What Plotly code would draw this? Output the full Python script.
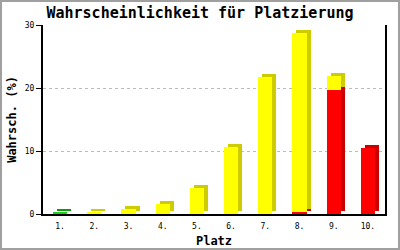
import plotly.graph_objects as go

categories = ["1.", "2.", "3.", "4.", "5.", "6.", "7.", "8.", "9.", "10."]
green = [0.3, 0, 0, 0, 0, 0, 0, 0, 0, 0]
yellow = [0, 0.35, 0.8, 1.6, 4.2, 10.7, 21.8, 28.5, 2.2, 0]
red = [0, 0, 0, 0, 0, 0, 0, 0.3, 19.7, 10.5]
y_ticks = [0, 10, 20, 30]

# stacking order bottom -> top: green, red, yellow
series = [
    ("green", green, "#22cc22", "#119911"),
    ("red", red, "#ff0000", "#cc0000"),
    ("yellow", yellow, "#ffff00", "#cccc00"),
]

W, H = 400, 250
L, R, T, B = 43, 15, 25, 36
pw, ph = W - L - R, H - T - B

width = 0.42
dx = 4 / (pw / 10)      # 3D depth in category units
dy = 3 / (ph / 30)      # 3D depth in value units

bases = {}
cum = [0.0] * len(categories)
for name, vals, _, _ in series:
    bases[name] = list(cum)
    cum = [c + v for c, v in zip(cum, vals)]

fig = go.Figure()
# side/top faces
for name, vals, front, side in series:
    fig.add_trace(go.Bar(
        x=categories, y=vals, base=[b + dy if v > 0 else b for b, v in zip(bases[name], vals)],
        offset=-width / 2 + dx, width=width,
        marker=dict(color=side, line=dict(width=0)),
        showlegend=False, hoverinfo="skip"))
# front faces
for name, vals, front, side in series:
    fig.add_trace(go.Bar(
        x=categories, y=vals, base=bases[name],
        offset=-width / 2, width=width,
        marker=dict(color=front, line=dict(width=0)),
        showlegend=False, name=name))

mono = "DejaVu Sans Mono"
fig.update_layout(
    width=W, height=H,
    margin=dict(l=L, r=R, t=T, b=B, pad=0, autoexpand=False),
    paper_bgcolor="white", plot_bgcolor="white",
    barmode="overlay", bargap=0,
    title=dict(text="<b>Wahrscheinlichkeit für Platzierung</b>",
               font=dict(family=mono, size=15, color="black"),
               x=0.5, xanchor="center", y=1 - 13 / H, yanchor="middle", yref="container"),
    xaxis=dict(
        type="category", range=[-0.5, 9.5], automargin=False,
        showline=True, linecolor="black", linewidth=2,
        showgrid=False, ticks="", zeroline=False, ticklabelstandoff=3,
        tickfont=dict(family=mono, size=8, color="black"),
        title=dict(text="<b>Platz</b>", font=dict(family=mono, size=12, color="black"), standoff=7),
    ),
    yaxis=dict(
        range=[0, 30], tickvals=y_ticks, automargin=False,
        showline=True, linecolor="black", linewidth=2, mirror=True,
        ticks="outside", ticklen=5, tickcolor="black", tickwidth=1,
        showgrid=True, gridcolor="#bbbbbb", griddash="dot", gridwidth=1,
        zeroline=False,
        tickfont=dict(family=mono, size=8, color="black"),
        title=dict(text="<b>Wahrsch. (%)</b>", font=dict(family=mono, size=12, color="black"), standoff=6),
    ),
    shapes=[dict(type="rect", xref="paper", yref="paper",
                 x0=-(L - 1) / pw, x1=1 + (R - 1) / pw,
                 y0=-(B - 1) / ph, y1=1 + (T - 1) / ph,
                 line=dict(color="#a0a0a0", width=2), fillcolor="rgba(0,0,0,0)", layer="above")],
)

fig.write_html("out.html")
